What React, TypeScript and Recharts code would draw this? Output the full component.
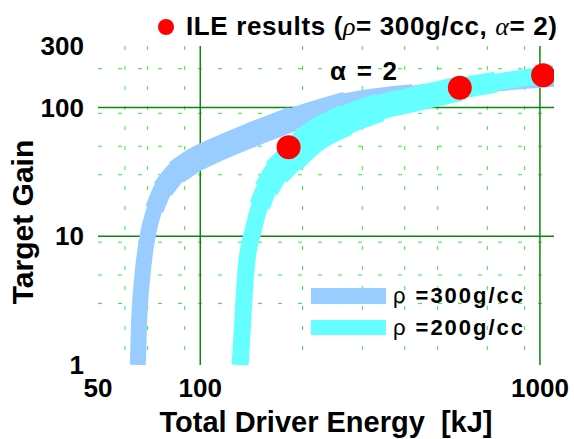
import { ComposedChart, Line, Scatter, XAxis, YAxis, CartesianGrid } from 'recharts'

// energies in kJ, gains
const energyTicks = [50, 100, 1000]
const energyMinor = [60, 70, 80, 90, 200, 300, 400, 500, 600, 700, 800, 900]
const energyMajor = [100, 1000]
const gainTicks = [1, 10, 100, 300]
const gainMinor = [2, 3, 4, 5, 6, 7, 8, 9, 20, 30, 40, 50, 60, 70, 80, 90, 200]
const gainMajor = [10, 100]

// rho = 300 g/cc band (centre line)
const rho300E = [65.5, 66, 67.6, 70, 73.3, 77.6, 85, 97.3, 111.5, 139.7, 187.5, 269, 422, 832, 1100]
const rho300G = [1, 2, 5, 10, 16.2, 23.2, 31.3, 39.7, 47, 60.4, 81.6, 109, 128, 158, 167]

// rho = 200 g/cc band (centre line)
const rho200E = [131, 133, 135, 137, 143, 149.6, 156.5, 167.4, 183.1, 214, 269, 337, 422, 581, 742, 1100]
const rho200G = [1, 1.9, 3.8, 6.2, 11, 17.2, 23.2, 31.3, 39.7, 58, 80, 100, 115, 140, 157, 183]

// ILE simulation results
const ileE = [182, 581, 1022]
const ileG = [49, 142, 178]

const BLUE = '#99ccff'
const CYAN = '#66ffff'
const FONT = "Arial, 'Liberation Sans', Helvetica, sans-serif"
const SERIF = "'Liberation Serif', 'Times New Roman', serif"

const toPoints = (es: number[], gs: number[]) => es.map((e, i) => ({ e, g: gs[i] }))

const rho300 = toPoints(rho300E, rho300G)
const rho200 = toPoints(rho200E, rho200G)
const ile = toPoints(ileE, ileG)

const tickFont = { fontSize: 26, fontWeight: 'bold', fill: '#000', fontFamily: FONT }

function RedDot(props: any) {
  return <circle cx={props.cx} cy={props.cy} r={12} fill="#ff0000" />
}

export default function App() {
  const xCommon = {
    type: 'number' as const,
    dataKey: 'e',
    scale: 'log' as const,
    domain: [50, 1100],
    allowDataOverflow: true,
  }
  const yCommon = {
    type: 'number' as const,
    scale: 'log' as const,
    domain: [1, 300],
    allowDataOverflow: true,
  }
  const allE = [...energyMinor, ...energyMajor]
  const allG = [...gainMinor, ...gainMajor]
  const frame = { stroke: '#222', strokeWidth: 1.5 }

  // the bands get wider in the middle: stack strokes that widen step by step
  const band = (data: { e: number; g: number }[], color: string, width: number) => (
    <Line
      data={data}
      dataKey="g"
      type="monotone"
      stroke={color}
      strokeWidth={width}
      dot={false}
      activeDot={false}
      isAnimationActive={false}
    />
  )

  return (
    <div style={{ position: 'absolute', left: 0, top: 0, width: 574, height: 439, background: '#fff' }}>
      <ComposedChart width={574} height={439} margin={{ top: 46, right: 20, left: 0, bottom: 0 }}>
        <CartesianGrid
          verticalValues={energyMinor}
          horizontalValues={gainMinor}
          stroke="#33ee33"
          strokeDasharray="4 16"
        />
        <CartesianGrid verticalValues={energyMajor} horizontalValues={gainMajor} stroke="#0a8a0a" strokeWidth={1.5} />

        <XAxis
          {...xCommon}
          ticks={energyTicks}
          height={74}
          tickLine={false}
          axisLine={false}
          tickSize={0}
          tickMargin={14}
          tick={tickFont}
        />
        <XAxis {...xCommon} xAxisId="bm" mirror height={0} ticks={allE} tick={false} tickSize={5} axisLine={frame} tickLine={{ stroke: '#222' }} />
        <XAxis {...xCommon} xAxisId="top" orientation="top" mirror height={0} ticks={allE} tick={false} tickSize={5} axisLine={frame} tickLine={{ stroke: '#222' }} />
        <YAxis
          {...yCommon}
          ticks={gainTicks}
          width={98}
          tickLine={false}
          axisLine={false}
          tickSize={0}
          tickMargin={14}
          tick={tickFont}
        />
        <YAxis {...yCommon} yAxisId="lm" mirror width={0} ticks={allG} tick={false} tickSize={6} axisLine={frame} tickLine={{ stroke: '#222' }} />
        <YAxis {...yCommon} yAxisId="rm" orientation="right" mirror width={0} ticks={allG} tick={false} tickSize={6} axisLine={frame} tickLine={{ stroke: '#222' }} />

        {band(rho300, BLUE, 16)}
        {band(rho300.slice(4, 13), BLUE, 19)}
        {band(rho300.slice(5, 12), BLUE, 22)}
        {band(rho300.slice(6, 11), BLUE, 25)}

        {band(rho200, CYAN, 17)}
        {band(rho200.slice(5, 15), CYAN, 21)}
        {band(rho200.slice(6, 14), CYAN, 25)}
        {band(rho200.slice(7, 12), CYAN, 29)}
        {band(rho200.slice(8, 11), CYAN, 32)}

        <Scatter data={ile} dataKey="g" fill="#ff0000" shape={RedDot} isAnimationActive={false} />
      </ComposedChart>

      <svg
        width={574}
        height={439}
        style={{ position: 'absolute', left: 0, top: 0, pointerEvents: 'none' }}
        fontFamily={FONT}
      >
        {/* legend for the red dots */}
        <circle cx={166} cy={27} r={8} fill="#ff0000" />
        <text x={186} y={35} fontSize={26} fontWeight="bold" textLength={371} lengthAdjust="spacing">
          ILE results (
          <tspan fontFamily={SERIF} fontStyle="italic" fontWeight="normal">ρ</tspan>
          = 300g/cc,{' '}
          <tspan fontFamily={SERIF} fontStyle="italic" fontWeight="normal">α</tspan>
          = 2)
        </text>

        <text x={330} y={80} fontSize={26} fontWeight="bold" textLength={67} lengthAdjust="spacing">
          α = 2
        </text>

        {/* band legend */}
        <rect x={311} y={288} width={75} height={16} fill={BLUE} />
        <text x={393} y={303} fontSize={22} fontWeight="bold" textLength={130} lengthAdjust="spacing">
          <tspan fontWeight="normal">ρ</tspan> =300g/cc
        </text>
        <rect x={311} y={320} width={75} height={15} fill={CYAN} />
        <text x={393} y={335} fontSize={22} fontWeight="bold" textLength={130} lengthAdjust="spacing">
          <tspan fontWeight="normal">ρ</tspan> =200g/cc
        </text>

        {/* axis titles */}
        <text x={326} y={432} fontSize={29} fontWeight="bold" textAnchor="middle" style={{ whiteSpace: 'pre' }}>
          {'Total Driver Energy  [kJ]'}
        </text>
        <text transform="translate(33,222) rotate(-90)" fontSize={30} fontWeight="bold" textAnchor="middle">
          Target Gain
        </text>
      </svg>
    </div>
  )
}
